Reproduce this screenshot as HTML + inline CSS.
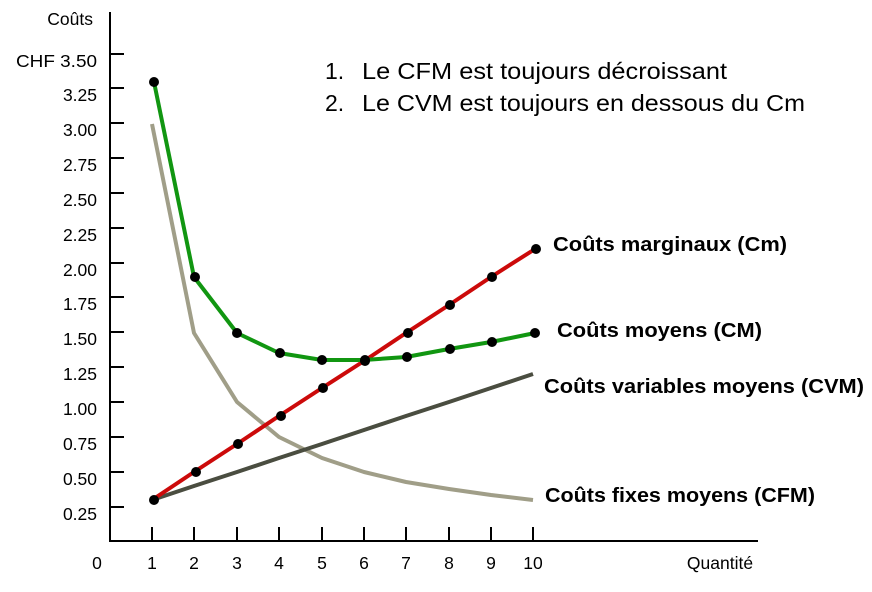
<!DOCTYPE html>
<html><head><meta charset="utf-8"><style>
html,body{margin:0;padding:0;background:#fff;}
svg{display:block;font-family:"Liberation Sans",sans-serif;}
</style></head><body>
<svg width="872" height="592" viewBox="0 0 872 592" xmlns="http://www.w3.org/2000/svg">
<g stroke="#000" stroke-width="2" fill="none">
<line x1="110" y1="12" x2="110" y2="541"/>
<line x1="109" y1="541" x2="758" y2="541"/>
<line x1="110" y1="54" x2="124" y2="54"/>
<line x1="110" y1="88" x2="124" y2="88"/>
<line x1="110" y1="123" x2="124" y2="123"/>
<line x1="110" y1="158" x2="124" y2="158"/>
<line x1="110" y1="193" x2="124" y2="193"/>
<line x1="110" y1="228" x2="124" y2="228"/>
<line x1="110" y1="263" x2="124" y2="263"/>
<line x1="110" y1="297" x2="124" y2="297"/>
<line x1="110" y1="332" x2="124" y2="332"/>
<line x1="110" y1="367" x2="124" y2="367"/>
<line x1="110" y1="402" x2="124" y2="402"/>
<line x1="110" y1="437" x2="124" y2="437"/>
<line x1="110" y1="472" x2="124" y2="472"/>
<line x1="110" y1="507" x2="124" y2="507"/>
<line x1="152" y1="527" x2="152" y2="541"/>
<line x1="194" y1="527" x2="194" y2="541"/>
<line x1="237" y1="527" x2="237" y2="541"/>
<line x1="279" y1="527" x2="279" y2="541"/>
<line x1="322" y1="527" x2="322" y2="541"/>
<line x1="364" y1="527" x2="364" y2="541"/>
<line x1="406" y1="527" x2="406" y2="541"/>
<line x1="449" y1="527" x2="449" y2="541"/>
<line x1="491" y1="527" x2="491" y2="541"/>
<line x1="533" y1="527" x2="533" y2="541"/>
</g>
<g font-size="17.5" fill="#000" text-anchor="end">
<text x="93" y="25">Coûts</text>
<text x="97" y="67" textLength="81" lengthAdjust="spacingAndGlyphs">CHF 3.50</text>
<text x="97" y="101">3.25</text>
<text x="97" y="136">3.00</text>
<text x="97" y="171">2.75</text>
<text x="97" y="206">2.50</text>
<text x="97" y="241">2.25</text>
<text x="97" y="276">2.00</text>
<text x="97" y="310">1.75</text>
<text x="97" y="345">1.50</text>
<text x="97" y="380">1.25</text>
<text x="97" y="415">1.00</text>
<text x="97" y="450">0.75</text>
<text x="97" y="485">0.50</text>
<text x="97" y="520">0.25</text>
</g>
<g font-size="17.5" fill="#000" text-anchor="middle">
<text x="97" y="569">0</text>
<text x="152" y="569">1</text>
<text x="194" y="569">2</text>
<text x="237" y="569">3</text>
<text x="279" y="569">4</text>
<text x="322" y="569">5</text>
<text x="364" y="569">6</text>
<text x="406" y="569">7</text>
<text x="449" y="569">8</text>
<text x="491" y="569">9</text>
<text x="533" y="569">10</text>
<text x="720" y="569">Quantité</text>
</g>
<g fill="none" stroke-width="4" stroke-linejoin="round">
<polyline stroke="#a09e88" points="152,124 194,333 237,402 279,437 322,458 364,472 406,482 449,489 491,495 533,500"/>
<polyline stroke="#4a4d40" points="152,500 194,486 237,472 279,458 322,444 364,430 406,416 449,402 491,388 533,374"/>
<polyline stroke="#cc0a0a" points="152,500 194,472 237,444 279,416 322,388 364,361 406,333 449,305 491,277 535,249"/>
<polyline stroke="#119611" points="154,82 194,277 237,333 279,353 322,360 364,360 406,357 449,349 491,342 535,333"/>
</g>
<g fill="#000">
<circle cx="154" cy="82" r="5"/><circle cx="195" cy="277" r="5"/><circle cx="237" cy="333" r="5"/><circle cx="280" cy="353" r="5"/><circle cx="322" cy="360" r="5"/><circle cx="365" cy="360" r="5"/><circle cx="407" cy="357" r="5"/><circle cx="450" cy="349" r="5"/><circle cx="492" cy="342" r="5"/><circle cx="535" cy="333" r="5"/>
<circle cx="154" cy="500" r="5"/><circle cx="196" cy="472" r="5"/><circle cx="238" cy="444" r="5"/><circle cx="281" cy="416" r="5"/><circle cx="323" cy="388" r="5"/><circle cx="365" cy="361" r="5"/><circle cx="408" cy="333" r="5"/><circle cx="450" cy="305" r="5"/><circle cx="492" cy="277" r="5"/><circle cx="536" cy="249" r="5"/>
</g>
<g font-size="20" font-weight="bold" fill="#000" lengthAdjust="spacingAndGlyphs">
<text x="553" y="251" textLength="234" lengthAdjust="spacingAndGlyphs">Coûts marginaux (Cm)</text>
<text x="557" y="337" textLength="205" lengthAdjust="spacingAndGlyphs">Coûts moyens (CM)</text>
<text x="544" y="393" textLength="320" lengthAdjust="spacingAndGlyphs">Coûts variables moyens (CVM)</text>
<text x="545" y="502" textLength="270" lengthAdjust="spacingAndGlyphs">Coûts fixes moyens (CFM)</text>
</g>
<g font-size="23" fill="#000">
<text x="325" y="79">1.</text>
<text x="362" y="79" textLength="365" lengthAdjust="spacingAndGlyphs">Le CFM est toujours décroissant</text>
<text x="325" y="111">2.</text>
<text x="362" y="111" textLength="443" lengthAdjust="spacingAndGlyphs">Le CVM est toujours en dessous du Cm</text>
</g>
</svg>
</body></html>
